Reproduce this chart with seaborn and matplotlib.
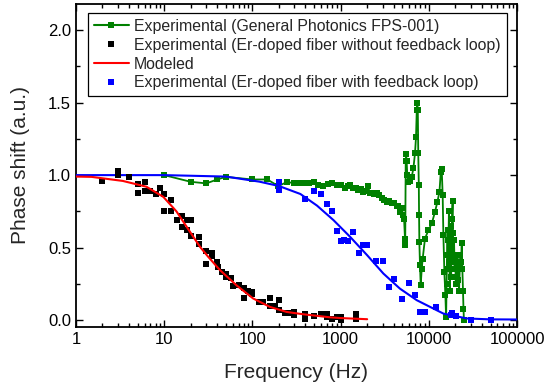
import numpy as np
import pandas as pd
import matplotlib
matplotlib.use("Agg")
import matplotlib.pyplot as plt
import seaborn as sns
from matplotlib.lines import Line2D
from matplotlib.ticker import FixedLocator, LogLocator, NullFormatter, FixedFormatter

# ---------------- data ----------------
green_f = [10, 20, 30, 40, 50, 100, 148, 197, 249, 296, 346, 395, 442, 500, 558, 637, 726, 793,
           900, 1000, 1122, 1200, 1280, 1393, 1500, 1590, 1700, 1808, 1900, 2030, 2150, 2255, 2400,
           2565, 2700, 2925, 3100, 3334, 3550, 3797, 4050, 4326, 4510, 4712, 4930, 5140, 5240, 5370,
           5400, 5470, 5520, 5600, 5700, 5830, 6100, 6400, 6680, 6970, 7160, 7300, 7410, 7500, 7590,
           7700, 7750, 7810, 7940, 8090, 8300, 8520, 9050, 9880, 10800, 11750, 12500, 13200, 13660,
           14000, 14350, 14620, 15000, 15400, 15700, 15900, 16100, 16300, 16500, 16700, 16900, 17100,
           17300, 17500, 17700, 17900, 18100, 18300, 18600, 18800, 19000, 19300, 19600, 19900, 20200,
           20500, 20800, 21100, 21400, 21700, 22000, 22400, 22800, 23200, 23600, 24000, 24400, 24700,
           25000]
green_v = [1.00, 0.954, 0.943, 0.97, 0.988, 0.97, 0.97, 0.924, 0.954, 0.943, 0.947, 0.947, 0.947,
           0.954, 0.93, 0.924, 0.938, 0.943, 0.93, 0.935, 0.908, 0.925, 0.93, 0.908, 0.91, 0.897,
           0.905, 0.885, 0.89, 0.924, 0.88, 0.874, 0.87, 0.878, 0.86, 0.839, 0.83, 0.816, 0.825,
           0.809, 0.81, 0.786, 0.79, 0.747, 0.77, 0.724, 0.70, 0.559, 0.52, 1.10, 1.143, 1.10, 1.0,
           0.954, 0.96, 0.988, 1.046, 1.15, 1.264, 1.45, 1.50, 1.45, 1.15, 0.93, 0.724, 0.54, 0.38,
           0.241, 0.35, 0.425, 0.563, 0.62, 0.667, 0.747, 0.816, 0.885, 1.023, 1.041, 0.862, 0.586,
           0.333, 0.172, 0.02, 0.25, 0.45, 0.62, 0.35, 0.55, 0.75, 0.40, 0.20, 0.50, 0.65, 0.30, 0.48,
           0.70, 0.82, 0.60, 0.40, 0.55, 0.35, 0.45, 0.25, 0.40, 0.30, 0.45, 0.28, 0.38, 0.20, 0.35,
           0.45, 0.40, 0.53, 0.35, 0.20, 0.08, 0.0]

black_f = [2, 3, 3, 4, 5, 5, 6, 6, 7, 8, 9, 10, 10, 12, 12, 14, 16, 16, 18, 18, 20, 20, 25, 25, 30, 30,
           35, 35, 40, 41, 45, 50, 50, 58, 60, 70, 80, 80, 90, 100, 100, 118, 133, 158, 158, 180, 200,
           200, 235, 265, 300, 300, 400, 400, 500, 600, 700, 700, 800, 900, 1000, 1000, 1500, 1500]
black_v = [0.96, 1.03, 1.00, 0.99, 0.94, 0.88, 0.95, 0.89, 0.89, 0.87, 0.91, 0.87, 0.75, 0.83, 0.75,
           0.69, 0.72, 0.64, 0.69, 0.62, 0.69, 0.58, 0.575, 0.525, 0.48, 0.39, 0.46, 0.44, 0.40, 0.37,
           0.33, 0.32, 0.30, 0.29, 0.235, 0.24, 0.22, 0.155, 0.20, 0.195, 0.18, 0.125, 0.125, 0.155,
           0.10, 0.10, 0.14, 0.07, 0.05, 0.05, 0.057, 0.035, 0.04, 0.01, 0.028, 0.046, 0.046, 0.023,
           0.011, 0.023, 0.023, 0.0, 0.041, 0.007]

red_f = [1, 1.5, 3.4, 6.3, 9.8, 13.8, 19.6, 25.5, 31.6, 43, 66, 102, 158, 245, 378, 584, 760, 1000, 2000]
red_v = [0.99, 0.988, 0.96, 0.92, 0.85, 0.75, 0.61, 0.506, 0.437, 0.345, 0.241, 0.15, 0.092, 0.057,
         0.041, 0.028, 0.02, 0.015, 0.007]

blue_f = [200, 200, 400, 500, 600, 700, 800, 900, 1000, 1100, 1200, 1400, 1600, 1800, 2000, 2500, 3000,
          3500, 4000, 5000, 6000, 7000, 8000, 9000, 12000, 17800, 18500, 20500, 30000, 50000]
blue_v = [0.95, 0.90, 0.835, 0.89, 0.868, 0.80, 0.75, 0.615, 0.547, 0.552, 0.547, 0.607, 0.46, 0.517,
          0.517, 0.41, 0.405, 0.23, 0.287, 0.145, 0.26, 0.172, 0.057, 0.057, 0.092, 0.034, 0.053, 0.03,
          0.0, 0.005]

bluefit_f = [1, 10, 50, 120, 200, 350, 540, 830, 1280, 2000, 3050, 4700, 7300, 14600, 27000, 50000, 100000]
bluefit_v = [1.0, 1.0, 0.99, 0.955, 0.925, 0.87, 0.79, 0.69, 0.575, 0.448, 0.322, 0.218, 0.138, 0.046,
             0.012, 0.006, 0.005]

xtick_vals = [1, 10, 100, 1000, 10000, 100000]
xtick_labels = ["1", "10", "100", "1000", "10000", "100000"]
ytick_vals = [0.0, 0.5, 1.0, 1.5, 2.0]
ytick_labels = ["0.0", "0.5", "1.0", "1.5", "2.0"]

labels = ["Experimental (General Photonics FPS-001)",
          "Experimental (Er-doped fiber without feedback loop)",
          "Modeled",
          "Experimental (Er-doped fiber with feedback loop)"]

# ---------------- plot ----------------
sns.set_style("ticks")
plt.rcParams['font.family'] = ['Liberation Sans', 'DejaVu Sans']

GREEN = "#008000"
fig = plt.figure(figsize=(5.46, 3.89), dpi=100)
ax = fig.add_axes([0.139, 0.160, 0.808, 0.830])

dg = pd.DataFrame({"f": green_f, "v": green_v})
db = pd.DataFrame({"f": black_f, "v": black_v})
dr = pd.DataFrame({"f": red_f, "v": red_v})
dbl = pd.DataFrame({"f": blue_f, "v": blue_v})
dbf = pd.DataFrame({"f": bluefit_f, "v": bluefit_v})

sns.lineplot(data=dg, x="f", y="v", ax=ax, color=GREEN, lw=1.3, marker="s", markersize=3.8,
             markeredgewidth=0, estimator=None, sort=False, zorder=2)
sns.lineplot(data=dbf, x="f", y="v", ax=ax, color="#0000FF", lw=1.5, estimator=None, sort=False, zorder=3)
sns.scatterplot(data=dbl, x="f", y="v", ax=ax, color="#0000FF", marker="s", s=20, linewidth=0, zorder=4)
sns.scatterplot(data=db, x="f", y="v", ax=ax, color="black", marker="s", s=20, linewidth=0, zorder=4)
sns.lineplot(data=dr, x="f", y="v", ax=ax, color="#FF0000", lw=1.5, estimator=None, sort=False, zorder=5)

ax.set_xscale("log")
ax.set_xlim(1, 100000)
ax.set_ylim(-0.045, 2.18)
ax.xaxis.set_major_locator(FixedLocator(xtick_vals))
ax.xaxis.set_major_formatter(FixedFormatter(xtick_labels))
ax.xaxis.set_minor_locator(LogLocator(base=10, subs=np.arange(2, 10)))
ax.xaxis.set_minor_formatter(NullFormatter())
ax.yaxis.set_major_locator(FixedLocator(ytick_vals))
ax.yaxis.set_major_formatter(FixedFormatter(ytick_labels))
ax.yaxis.set_minor_locator(FixedLocator([0.25, 0.75, 1.25, 1.75]))

ax.tick_params(which="both", direction="in", top=True, right=True, width=1.0, labelsize=12, colors="black")
ax.tick_params(which="major", length=5)
ax.tick_params(which="minor", length=3)
for s in ax.spines.values():
    s.set_linewidth(1.3)
    s.set_color("black")

ax.set_xlabel("Frequency (Hz)", fontsize=15, labelpad=12)
ax.set_ylabel("Phase shift (a.u.)", fontsize=15, labelpad=13)

handles = [
    Line2D([], [], color=GREEN, lw=1.5, marker="s", markersize=3.8, markeredgewidth=0),
    Line2D([], [], color="black", lw=0, marker="s", markersize=4.5, markeredgewidth=0),
    Line2D([], [], color="#FF0000", lw=1.5),
    Line2D([], [], color="#0000FF", lw=0, marker="s", markersize=4.5, markeredgewidth=0),
]
leg = ax.legend(handles, labels, loc="upper left", bbox_to_anchor=(0.027, 0.972), borderaxespad=0,
                fontsize=11.4, frameon=True, fancybox=False, framealpha=1, edgecolor="black",
                handlelength=2.2, handletextpad=0.35, labelspacing=0.24, borderpad=0.38)
leg.get_frame().set_linewidth(0.9)

fig.savefig("out.png", dpi=100)
